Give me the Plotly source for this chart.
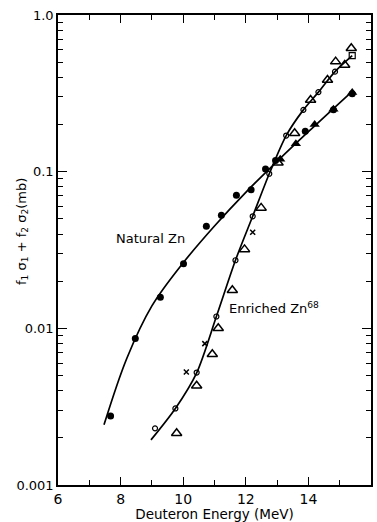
import math
import plotly.graph_objects as go

# Natural Zn (filled circles)
nat_E = [7.68, 8.47, 9.27, 10.01, 10.74, 11.22, 11.70, 12.17, 12.63, 12.95, 13.9, 14.8, 15.4]
nat_v = [0.00276, 0.0086, 0.0158, 0.0258, 0.0449, 0.0527, 0.0707, 0.0768, 0.104, 0.118, 0.181, 0.248, 0.314]
# Natural Zn (filled triangles)
natT_E = [13.1, 13.6, 14.2, 14.8, 15.4]
natT_v = [0.12, 0.151, 0.20, 0.25, 0.32]
# Natural Zn smooth curve
natC_E = [7.47, 8.2, 9.0, 10.0, 11.0, 12.0, 13.0, 14.0, 15.4]
natC_v = [0.00242, 0.00644, 0.0139, 0.0262, 0.045, 0.0738, 0.1163, 0.180, 0.326]

# Enriched Zn68 (open circles)
enr_E = [9.10, 9.75, 10.43, 11.06, 11.67, 12.22, 12.75, 13.29, 13.84, 14.32, 14.85]
enr_v = [0.0023, 0.00308, 0.00522, 0.0119, 0.0272, 0.0519, 0.097, 0.170, 0.248, 0.322, 0.435]
# open square
sq_E = [15.4]
sq_v = [0.55]
# open triangles
tri_E = [9.79, 10.43, 10.93, 11.12, 11.57, 11.96, 12.49, 13.03, 13.56, 14.07, 14.61, 14.87, 15.16, 15.37]
tri_v = [0.00214, 0.0043, 0.00683, 0.010, 0.0175, 0.0319, 0.0587, 0.114, 0.176, 0.287, 0.385, 0.504, 0.48, 0.613]
# crosses
x_E = [10.10, 10.69, 12.22]
x_v = [0.00527, 0.00799, 0.0411]
# Enriched smooth curve
enrC_E = [8.97, 9.75, 10.43, 11.06, 11.67, 12.22, 12.75, 13.29, 13.84, 14.32, 14.85, 15.4]
enrC_v = [0.00194, 0.00308, 0.0052, 0.0119, 0.0272, 0.0519, 0.097, 0.17, 0.248, 0.322, 0.435, 0.55]

x_major = [6, 8, 10, 12, 14, 16]
x_minor = [7, 9, 11, 13, 15]
y_major = [0.001, 0.01, 0.1, 1.0]
y_major_text = ["0.001", "0.01", "0.1", "1.0"]
y_minor = [m * 10 ** e for e in (-3, -2, -1) for m in range(2, 10)]

FONT = "DejaVu Sans"
fig = go.Figure()
fig.add_trace(go.Scatter(x=natC_E, y=natC_v, mode="lines", line=dict(color="black", width=1.7, shape="spline", smoothing=1)))
fig.add_trace(go.Scatter(x=enrC_E, y=enrC_v, mode="lines", line=dict(color="black", width=1.7, shape="spline", smoothing=0.8)))
fig.add_trace(go.Scatter(x=nat_E, y=nat_v, mode="markers", marker=dict(symbol="circle", size=7, color="black")))
fig.add_trace(go.Scatter(x=natT_E, y=natT_v, mode="markers", marker=dict(symbol="triangle-up", size=9, color="black")))
fig.add_trace(go.Scatter(x=enr_E, y=enr_v, mode="markers",
                         marker=dict(symbol="circle-open", size=5, color="black", line=dict(width=1.2))))
fig.add_trace(go.Scatter(x=sq_E, y=sq_v, mode="markers",
                         marker=dict(symbol="square-open", size=6, color="black", line=dict(width=1.2))))
fig.add_trace(go.Scatter(x=tri_E, y=tri_v, mode="markers",
                         marker=dict(symbol="triangle-up-open", size=9, color="black", line=dict(width=1.5))))
fig.add_trace(go.Scatter(x=x_E, y=x_v, mode="markers",
                         marker=dict(symbol="x-thin-open", size=5, color="black", line=dict(width=1.5))))

fig.add_annotation(x=8.95, y=math.log10(0.0374), text="Natural Zn", showarrow=False, xanchor="center",
                   font=dict(family=FONT, size=13, color="black"))
fig.add_annotation(x=11.40, y=-1.87, text="Enriched Zn<sup>68</sup>", showarrow=False, xanchor="left",
                   font=dict(family=FONT, size=13, color="black"))
fig.add_annotation(xref="paper", yref="paper", x=-0.114, y=0.539, textangle=-90,
                   text="f<sub>1</sub> σ<sub>1</sub> + f<sub>2</sub> σ<sub>2</sub>(mb)",
                   showarrow=False, xanchor="center", yanchor="middle",
                   font=dict(family=FONT, size=13, color="black"))

fig.update_layout(
    width=377, height=522,
    margin=dict(l=58, r=4, t=15, b=36),
    paper_bgcolor="white", plot_bgcolor="white",
    showlegend=False,
    font=dict(family=FONT, size=13, color="black"),
)
fig.update_xaxes(
    range=[6, 16], tickvals=x_major, ticktext=[str(v) for v in x_major],
    ticks="inside", ticklen=8, tickwidth=1.4, tickcolor="black",
    minor=dict(tickvals=x_minor, ticks="inside", ticklen=5, tickwidth=1.4, tickcolor="black"),
    showline=True, linecolor="black", linewidth=1.6, mirror="ticks", showgrid=False, zeroline=False,
    title=dict(text="Deuteron Energy (MeV)", standoff=2, font=dict(size=13.5)),
    tickfont=dict(size=14),
)
fig.update_yaxes(
    type="log", range=[-3, 0], tickvals=y_major, ticktext=y_major_text,
    ticks="inside", ticklen=9, tickwidth=1.4, tickcolor="black",
    minor=dict(tickvals=y_minor, ticks="inside", ticklen=5, tickwidth=1.2, tickcolor="black"),
    showline=True, linecolor="black", linewidth=1.6, mirror="ticks", showgrid=False, zeroline=False,
    tickfont=dict(size=13),
)
fig.write_html("out.html")
